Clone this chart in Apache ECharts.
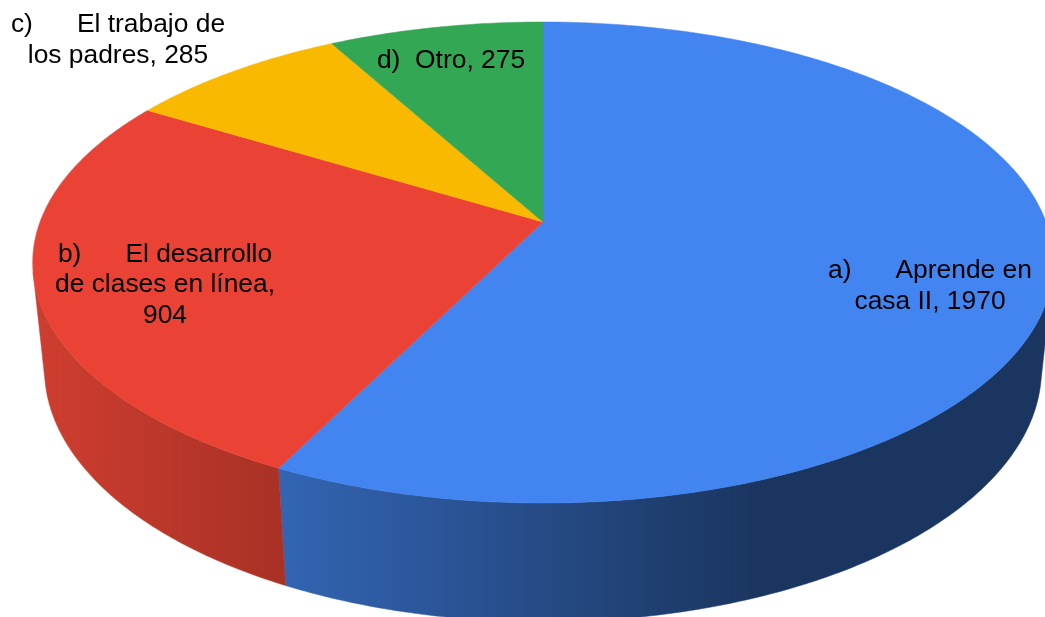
<!DOCTYPE html>
<html><head><meta charset="utf-8">
<style>html,body{margin:0;padding:0;background:#fff}#c{width:1045px;height:617px}</style>
<script src="https://cdn.jsdelivr.net/npm/echarts@6/dist/echarts.min.js"></script>
</head><body><div id="c"></div>
<script>
const categories = ['a) Aprende en casa II', 'b) El desarrollo de clases en línea', 'c) El trabajo de los padres', 'd) Otro'];
const values = [1970, 904, 285, 275];
const labels = [
  'a)\u00a0\u00a0\u00a0\u00a0\u00a0\u00a0Aprende en\ncasa II, 1970',
  'b)\u00a0\u00a0\u00a0\u00a0\u00a0\u00a0El desarrollo\nde clases en línea,\n904',
  'c)\u00a0\u00a0\u00a0\u00a0\u00a0\u00a0El trabajo de\nlos padres, 285',
  'd)\u00a0\u00a0Otro, 275'
];
const topColors = ['#4285f0', '#ea4335', '#f8b900', '#33a753'];

// Perspective view of the disc
const view = { cx: 543, cy: 222, A: 503, B: 233.7, k: 0.1684, m: 0.023, C: 108 };
const labelAt = [[930, 286], [165, 285], [118, 40], [451, 61]];
// Angles (degrees clockwise from the back) at which the cylinder side turns out of view
const visibleFrom = 102, visibleTo = 258;
const wallFill = {
  0: [[278, '#3365b4'], [760, '#1a355f'], [1045, '#1a355f']],
  1: [[32, '#cf3e30'], [285, '#a83125']]
};

const total = values.reduce((s, v) => s + v, 0);
const starts = [];
values.reduce((s, v, i) => { starts[i] = s; return s + v; }, 0);

function project(theta, h) {
  const u = Math.sin(theta), v = Math.cos(theta);
  const w = 1 + view.k * v + view.m * h;
  return [view.cx + view.A * u / w, view.cy + (-view.B * v + view.C * h) / w];
}
function arc(a0, a1, h) {
  const n = Math.max(4, Math.ceil(Math.abs(a1 - a0) / 0.01)), out = [];
  for (let i = 0; i <= n; i++) out.push(project(a0 + (a1 - a0) * i / n, h));
  return out;
}
function angles(i, val) {
  const a0 = starts[i] / total * 2 * Math.PI;
  return [a0, a0 + val / total * 2 * Math.PI];
}
function gradient(stops) {
  const x0 = stops[0][0], x1 = stops[stops.length - 1][0];
  return new echarts.graphic.LinearGradient(x0, 0, x1, 0,
    stops.map(s => ({ offset: (s[0] - x0) / (x1 - x0), color: s[1] })), true);
}
const seriesData = values.map((v, i) => ({ name: categories[i], value: [v] }));

const option = {
  animation: false,
  backgroundColor: '#fff',
  series: [
    { type: 'custom', coordinateSystem: 'none', z: 1, silent: true, clip: false, data: seriesData,
      renderItem(params, api) {
        const i = params.dataIndex;
        const [s0, s1] = angles(i, api.value(0));
        const a0 = Math.max(s0, visibleFrom * Math.PI / 180);
        const a1 = Math.min(s1, visibleTo * Math.PI / 180);
        if (a1 <= a0 || !wallFill[i]) return null;
        const pts = arc(a0, a1, 0).concat(arc(a1, a0, 1));
        const fill = gradient(wallFill[i]);
        return { type: 'polygon', shape: { points: pts }, style: { fill, stroke: fill, lineWidth: 0.5 } };
      } },
    { type: 'custom', coordinateSystem: 'none', z: 2, silent: true, clip: false, data: seriesData,
      renderItem(params, api) {
        const i = params.dataIndex;
        const [a0, a1] = angles(i, api.value(0));
        const pts = [[view.cx, view.cy]].concat(arc(a0, a1, 0));
        return { type: 'polygon', shape: { points: pts }, style: { fill: topColors[i], stroke: topColors[i], lineWidth: 0.5 } };
      } },
    { type: 'custom', coordinateSystem: 'none', z: 3, silent: true, clip: false, data: seriesData,
      renderItem(params) {
        const i = params.dataIndex;
        return { type: 'text', x: labelAt[i][0], y: labelAt[i][1], style: {
          text: labels[i], fill: '#000', font: '26.4px "Liberation Sans", Arial, sans-serif',
          align: 'center', verticalAlign: 'middle', lineHeight: 30.5 } };
      } }
  ]
};
echarts.init(document.getElementById('c'), null, { renderer: 'canvas' }).setOption(option);
</script></body></html>
